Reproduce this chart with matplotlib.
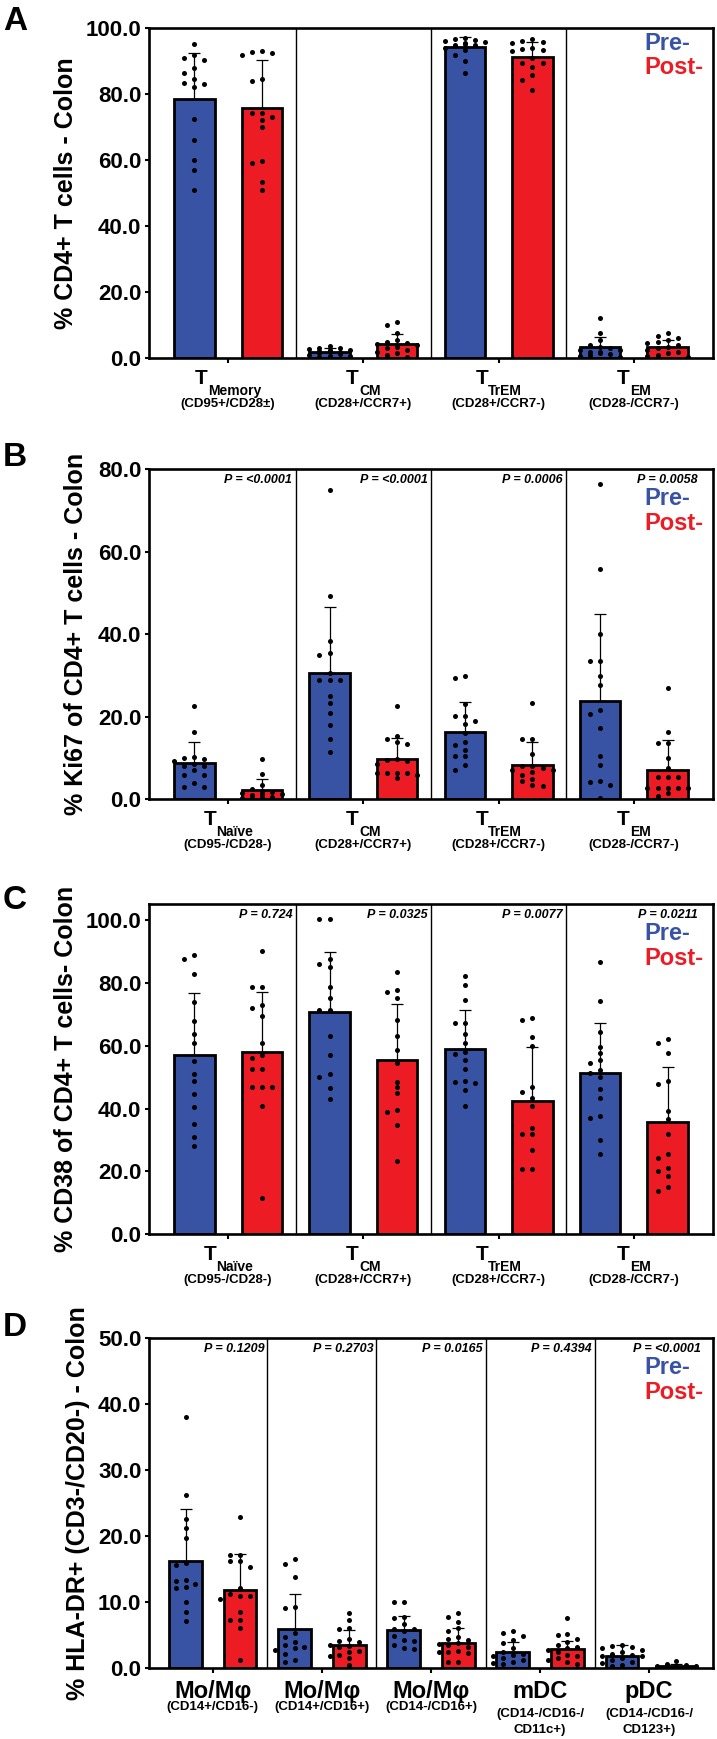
import numpy as np
import matplotlib
matplotlib.use("Agg")
import matplotlib.pyplot as plt
from matplotlib.transforms import blended_transform_factory, offset_copy

plt.rcParams['font.family'] = ['Liberation Sans', 'DejaVu Sans']
plt.rcParams['font.weight'] = 'bold'

BLUE = '#3953a4'
RED = '#ed1c24'

# ---------------- data ----------------
# A: % CD4+ T cells
a_cats = ['Memory', 'CM', 'TrEM', 'EM']
a_subs = ['(CD95+/CD28±)', '(CD28+/CCR7+)', '(CD28+/CCR7-)', '(CD28-/CCR7-)']
a_pre_mean = [78.7, 2.0, 94.2, 3.3]
a_pre_sd = [13.8, 1.0, 3.0, 3.1]
a_post_mean = [75.8, 4.3, 91.2, 3.5]
a_post_sd = [14.6, 3.1, 4.7, 2.0]
a_pre_pts = [
    [95.2, 91.9, 90.9, 90.4, 87.9, 86.5, 84.5, 83.5, 83.0, 82.3, 72.5, 66.0, 60.0, 57.0, 51.0],
    [3.8, 3.2, 3.0, 2.8, 2.6, 2.5, 2.2, 2.0, 1.8, 1.5, 1.2, 1.0, 0.8, 0.6, 0.5],
    [97.0, 96.8, 96.5, 96.0, 95.8, 95.5, 95.2, 95.0, 94.8, 94.5, 94.0, 93.5, 92.0, 90.0, 86.5],
    [12.3, 7.5, 5.5, 4.0, 3.5, 3.0, 2.5, 2.5, 2.0, 1.8, 1.5, 1.2, 1.0, 0.8, 0.5],
]
a_post_pts = [
    [93.1, 92.9, 92.6, 91.9, 84.5, 84.0, 74.2, 74.2, 73.2, 72.2, 70.2, 59.9, 59.1, 53.5, 51.0],
    [11.0, 10.0, 7.5, 5.5, 5.0, 4.5, 4.2, 4.0, 3.5, 3.0, 2.5, 2.0, 1.5, 1.0, 0.5],
    [96.7, 96.0, 95.7, 95.5, 94.1, 93.6, 93.4, 93.2, 90.9, 89.4, 89.4, 88.4, 85.9, 84.3, 81.3],
    [7.5, 6.8, 6.0, 5.5, 5.0, 4.5, 4.0, 3.5, 3.0, 2.5, 2.0, 1.5, 1.0, 0.8, 0.5],
]

# B: % Ki67
tcats = ['Naïve', 'CM', 'TrEM', 'EM']
tsubs = ['(CD95-/CD28-)', '(CD28+/CCR7+)', '(CD28+/CCR7-)', '(CD28-/CCR7-)']
b_pre_mean = [8.7, 30.7, 16.4, 23.9]
b_pre_sd = [5.3, 15.8, 7.3, 21.1]
b_post_mean = [2.25, 9.8, 8.3, 7.1]
b_post_sd = [2.6, 5.1, 5.5, 7.3]
b_pvals = ['P = <0.0001', 'P = <0.0001', 'P = 0.0006', 'P = 0.0058']
b_pre_pts = [
    [22.5, 16.2, 10.2, 9.9, 9.8, 9.2, 8.5, 8.0, 8.0, 7.0, 6.0, 5.9, 4.0, 3.0, 3.0],
    [75.1, 49.3, 38.4, 35.5, 34.9, 30.6, 28.8, 28.8, 28.8, 25.0, 23.4, 20.8, 18.0, 14.5, 11.4],
    [29.9, 29.3, 23.1, 20.2, 20.2, 19.0, 18.3, 16.1, 14.0, 13.2, 12.0, 10.5, 10.5, 8.3, 7.0],
    [76.4, 55.8, 40.1, 33.5, 33.5, 29.9, 27.8, 21.6, 20.6, 17.4, 10.5, 8.3, 4.4, 4.2, 3.5, 0.2],
]
b_post_pts = [
    [9.8, 6.2, 3.5, 2.5, 2.0, 1.8, 1.5, 1.4, 1.2, 1.0, 0.8, 0.6, 0.5, 0.4, 0.3],
    [22.6, 15.3, 14.5, 13.8, 13.5, 9.8, 9.5, 9.2, 8.5, 6.3, 6.3, 6.3, 6.3, 6.0, 5.2],
    [23.3, 14.5, 14.5, 11.0, 8.0, 8.0, 7.5, 7.0, 7.0, 6.5, 6.0, 5.0, 4.5, 3.5, 3.2],
    [27.1, 16.2, 13.7, 13.7, 9.9, 7.5, 5.5, 5.5, 5.5, 2.7, 2.7, 2.7, 2.7, 2.7, 1.5, 0.8],
]

# C: % CD38
c_pre_mean = [57.0, 70.6, 59.0, 51.4]
c_pre_sd = [19.7, 19.3, 12.4, 15.9]
c_post_mean = [58.1, 55.5, 42.4, 35.8]
c_post_sd = [19.1, 17.8, 17.1, 17.5]
c_pvals = ['P = 0.724', 'P = 0.0325', 'P = 0.0077', 'P = 0.0211']
c_pre_pts = [
    [89.0, 87.6, 82.8, 74.0, 68.0, 63.6, 60.8, 55.1, 51.0, 48.9, 44.6, 40.6, 35.1, 31.1, 28.2],
    [100.2, 100.2, 87.6, 86.1, 85.1, 78.6, 75.1, 71.4, 71.4, 63.2, 57.0, 51.0, 50.1, 46.5, 42.9],
    [82.2, 79.4, 74.5, 67.3, 67.3, 63.6, 61.0, 58.0, 57.5, 55.5, 52.5, 48.8, 48.5, 48.0, 45.8, 40.8],
    [86.5, 74.3, 64.5, 59.7, 57.6, 55.4, 54.5, 52.2, 51.4, 50.0, 46.1, 43.3, 37.7, 36.9, 30.0, 25.5],
]
c_post_pts = [
    [90.2, 78.6, 78.6, 73.0, 71.9, 69.6, 61.0, 57.0, 56.0, 52.6, 52.6, 46.8, 46.8, 46.8, 40.8, 11.5],
    [83.3, 77.6, 77.0, 75.2, 68.2, 63.1, 58.6, 54.4, 48.6, 46.8, 44.9, 39.5, 39.0, 34.8, 23.3],
    [68.9, 68.2, 62.7, 59.8, 46.8, 45.4, 43.4, 40.8, 33.7, 31.9, 31.9, 26.8, 20.8, 20.8],
    [62.2, 60.8, 57.6, 48.9, 47.7, 39.3, 36.6, 31.9, 25.5, 24.2, 21.0, 20.0, 18.4, 14.9, 13.9],
]

# D: % HLA-DR+
d_cats = ['Mo/Mφ', 'Mo/Mφ', 'Mo/Mφ', 'mDC', 'pDC']
d_subs = ['(CD14+/CD16-)', '(CD14+/CD16+)', '(CD14-/CD16+)',
          '(CD14-/CD16-/\nCD11c+)', '(CD14-/CD16-/\nCD123+)']
d_pre_mean = [16.3, 6.0, 5.8, 2.5, 1.9]
d_pre_sd = [7.9, 5.2, 2.1, 1.5, 1.6]
d_post_mean = [11.9, 3.5, 3.8, 2.9, 0.35]
d_post_sd = [5.4, 2.3, 2.3, 1.3, 0.3]
d_pvals = ['P = 0.1209', 'P = 0.2703', 'P = 0.0165', 'P = 0.4394', 'P = <0.0001']
d_pre_pts = [
    [38.1, 26.2, 22.6, 21.3, 19.8, 15.9, 15.6, 13.4, 13.2, 12.75, 12.3, 12.1, 10.1, 8.6, 7.1],
    [16.5, 15.8, 13.9, 9.3, 9.1, 5.4, 4.8, 4.0, 3.5, 3.2, 3.0, 2.8, 2.2, 1.2, 1.0],
    [10.0, 10.0, 7.8, 7.6, 6.7, 6.0, 5.9, 5.7, 4.9, 4.3, 4.2, 3.6, 3.0, 2.9],
    [5.6, 5.3, 4.9, 4.3, 3.9, 3.0, 2.5, 2.2, 2.0, 1.8, 1.5, 1.2, 1.0, 0.8, 0.6],
    [3.5, 3.4, 3.2, 3.0, 2.8, 2.5, 2.2, 2.0, 1.9, 1.8, 1.5, 1.2, 1.0, 0.8, 0.5, 0.3],
]
d_post_pts = [
    [22.9, 17.2, 17.2, 16.2, 16.2, 15.4, 12.1, 11.3, 11.0, 11.0, 10.5, 8.6, 7.3, 7.3, 6.1, 1.3],
    [8.4, 7.3, 6.1, 5.9, 4.4, 4.2, 4.0, 3.6, 3.4, 3.2, 2.6, 2.4, 2.0, 1.8, 1.5, 0.5],
    [8.4, 7.7, 7.0, 6.1, 5.6, 4.8, 4.5, 4.3, 3.8, 3.7, 3.6, 3.2, 2.6, 2.5, 2.4, 2.3, 1.0, 0.9],
    [7.6, 5.2, 5.0, 4.5, 4.0, 3.5, 3.2, 3.0, 2.8, 2.5, 2.0, 1.8, 1.5, 1.2, 0.9, 0.7],
    [1.1, 0.6, 0.5, 0.4, 0.4, 0.3, 0.3, 0.3, 0.2, 0.2, 0.2, 0.1, 0.1, 0.05],
]


def swarm(vals, center, step, px_per_unit, diam=5.5):
    # beeswarm inside the bar: push dots sideways, overlap when no room left
    vals = np.asarray(vals, dtype=float)
    xs = np.zeros(len(vals))
    cands = [0.0, -step, step, -2 * step, 2 * step]
    placed = []
    for idx in np.argsort(vals)[::-1]:
        y = vals[idx]
        best, best_hits = 0.0, None
        for c in cands:
            hits = sum(1 for px, py in placed
                       if abs(y - py) * px_per_unit < diam and abs(c - px) < step * 0.9)
            if best_hits is None or hits < best_hits:
                best, best_hits = c, hits
            if hits == 0:
                break
        placed.append((best, y))
        xs[idx] = center + best
    return xs


def panel(ax, subs, pre_m, pre_s, post_m, post_s, pre_p, post_p,
          ylim, ystep, ylabel, ylab_x, pvals=None, leg=(0.912, 0.836), step=0.075):
    n = len(subs)
    x = np.arange(n)
    off, w = 0.25, 0.30
    ax.set_xlim(-0.585, n - 1 + 0.585)
    ax.set_ylim(0, ylim)
    ppu = 330.0 / ylim
    for xs_, m, s, pts, col in [(x - off, pre_m, pre_s, pre_p, BLUE),
                                (x + off, post_m, post_s, post_p, RED)]:
        ax.bar(xs_, m, width=w, color=col, edgecolor='black', linewidth=2.0, zorder=2)
        ax.errorbar(xs_, m, yerr=[np.zeros(n), s], fmt='none', ecolor='black',
                    elinewidth=0.9, capsize=4, capthick=0.9, zorder=3)
        for i in range(n):
            px = swarm(pts[i], xs_[i], step, ppu)
            ax.scatter(px, pts[i], s=13, color='black', zorder=4, linewidths=0)
    for i in range(n - 1):
        ax.axvline(i + 0.5, color='black', lw=1.0, zorder=1)
    for sp in ax.spines.values():
        sp.set_linewidth(1.9)
    ax.set_yticks(np.arange(0, ylim + 0.01, ystep))
    ax.yaxis.set_major_formatter('{x:.1f}')
    ax.tick_params(axis='y', length=3, width=1.5, labelsize=16, pad=2.5)
    ax.set_xticks(x)
    ax.set_xticklabels([''] * n)
    ax.tick_params(axis='x', length=3.5, width=1.5)
    tr = blended_transform_factory(ax.transData, ax.transAxes)
    if pvals:
        for i, p in enumerate(pvals):
            ax.text(i + 0.5 - 0.025, 0.967, p, transform=tr, ha='right', va='center',
                    fontsize=9, style='italic')
    ax.text(0.879, leg[0], 'Pre-', transform=ax.transAxes, color=BLUE, fontsize=17,
            ha='left', va='center')
    ax.text(0.879, leg[1], 'Post-', transform=ax.transAxes, color=RED, fontsize=17,
            ha='left', va='center')
    ax.text(ylab_x, 0.5, ylabel, transform=ax.transAxes, rotation=90, ha='center',
            va='center', fontsize=18)
    return tr


def t_labels(fig, ax, tr, cats, subs):
    # "T" with a lowered subscript, centred on the tick, then the marker line
    rend = fig.canvas.get_renderer()
    for i, (c, s) in enumerate(zip(cats, subs)):
        t1 = ax.text(i, -26 / 330, 'T', transform=tr, ha='left', va='baseline', fontsize=15)
        t2 = ax.text(i, -37 / 330, c, transform=tr, ha='left', va='baseline', fontsize=10)
        w1 = t1.get_window_extent(rend).width
        w2 = t2.get_window_extent(rend).width
        start = -(w1 + w2) / 2
        t1.set_transform(offset_copy(tr, fig=fig, x=start, y=0, units='dots'))
        t2.set_transform(offset_copy(tr, fig=fig, x=start + w1, y=0, units='dots'))
        ax.text(i, -46 / 330, s, transform=tr, ha='center', va='center', fontsize=9.5)


fig = plt.figure(figsize=(7.17, 17.39), dpi=100)
L, W, H = 0.2078, 0.7866, 0.18976
axA = fig.add_axes([L, 0.7940, W, H])
axB = fig.add_axes([L, 0.54037, W, H])
axC = fig.add_axes([L, 0.29023, W, H])
axD = fig.add_axes([L, 0.04066, W, H])

trA = panel(axA, a_subs, a_pre_mean, a_pre_sd, a_post_mean, a_post_sd,
            a_pre_pts, a_post_pts, 100, 20, '% CD4+ T cells - Colon', -0.147,
            leg=(0.955, 0.882))
trB = panel(axB, tsubs, b_pre_mean, b_pre_sd, b_post_mean, b_post_sd,
            b_pre_pts, b_post_pts, 80, 20, '% Ki67 of CD4+ T cells - Colon', -0.129,
            pvals=b_pvals)
trC = panel(axC, tsubs, c_pre_mean, c_pre_sd, c_post_mean, c_post_sd,
            c_pre_pts, c_post_pts, 105, 20, '% CD38 of CD4+ T cells- Colon', -0.147,
            pvals=c_pvals)
trD = panel(axD, d_subs, d_pre_mean, d_pre_sd, d_post_mean, d_post_sd,
            d_pre_pts, d_post_pts, 50, 10, '% HLA-DR+ (CD3-/CD20-) - Colon', -0.126,
            pvals=d_pvals, step=0.09)

t_labels(fig, axA, trA, a_cats, a_subs)
t_labels(fig, axB, trB, tcats, tsubs)
t_labels(fig, axC, trC, tcats, tsubs)

for i, (c, s) in enumerate(zip(d_cats, d_subs)):
    axD.text(i, -30 / 330, c, transform=trD, ha='center', va='baseline', fontsize=17)
    lines = s.split('\n')
    if len(lines) == 1:
        axD.text(i, -39 / 330, s, transform=trD, ha='center', va='center', fontsize=9.5)
    else:
        for k, ln in enumerate(lines):
            axD.text(i, -(46 + 16 * k) / 330, ln, transform=trD, ha='center',
                     va='center', fontsize=9.5)

for letter, ypx in [('A', 21), ('B', 458), ('C', 901), ('D', 1328)]:
    fig.text(15 / 717, 1 - ypx / 1739, letter, fontsize=24, ha='center', va='center')

fig.savefig('out.png', dpi=100)
